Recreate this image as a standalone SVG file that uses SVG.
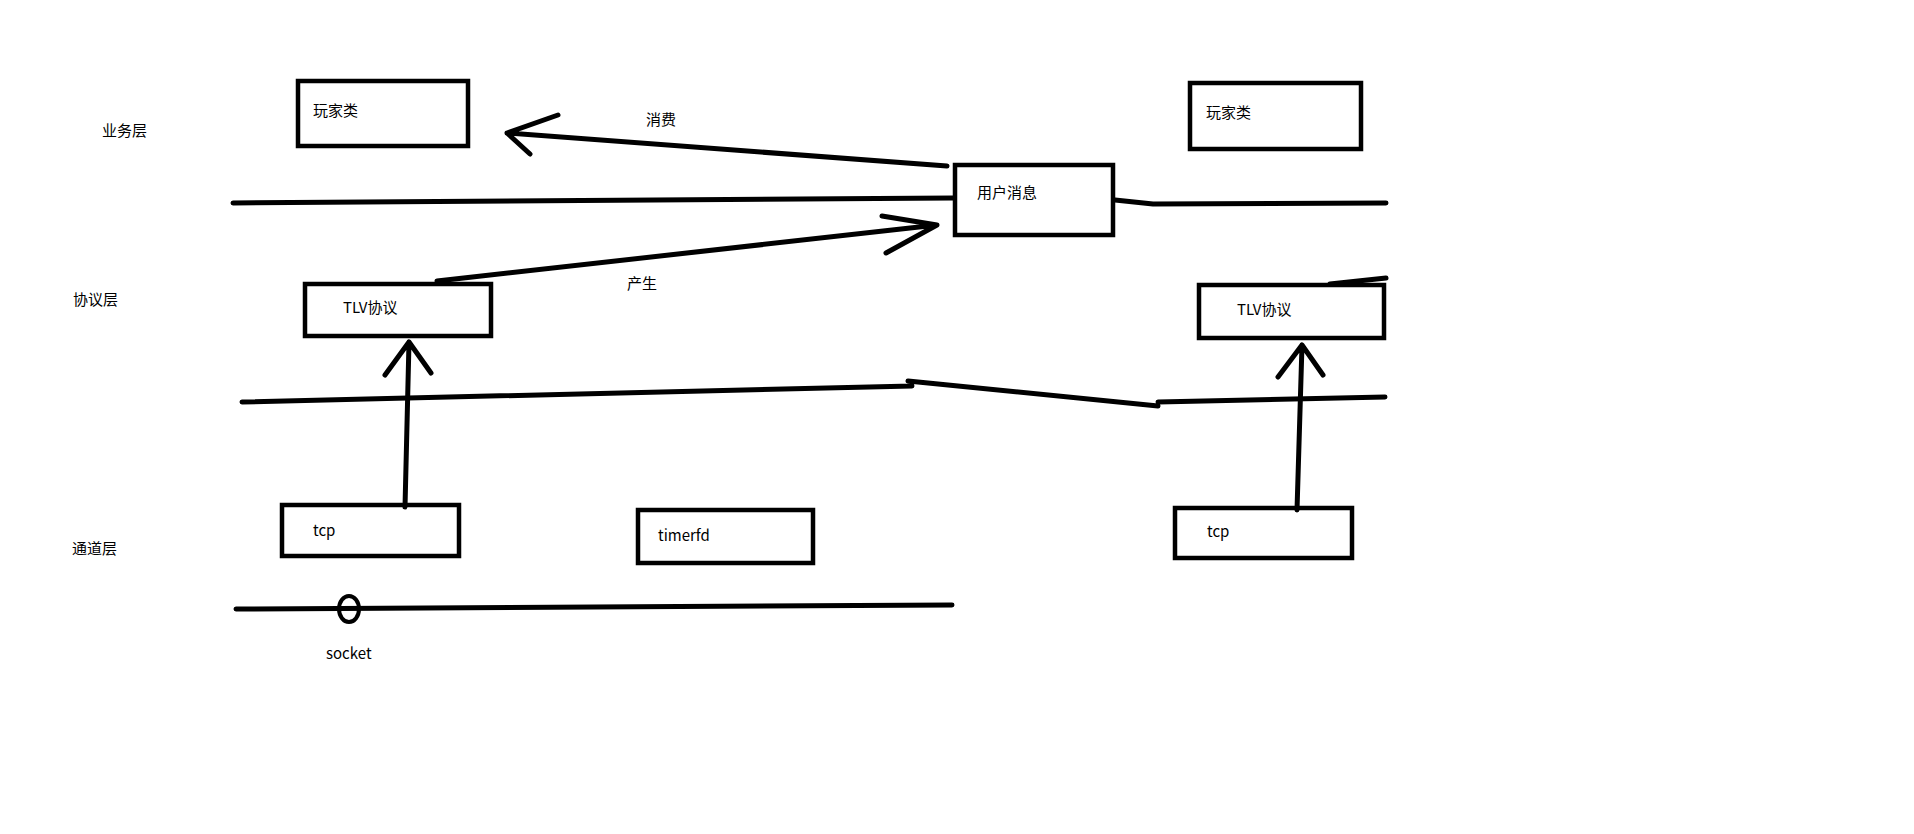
<svg xmlns="http://www.w3.org/2000/svg" width="1914" height="834" viewBox="0 0 1914 834">
<style>
.box{fill:none;stroke:#000;stroke-width:4.5}
.ln{fill:none;stroke:#000;stroke-width:5;stroke-linecap:round;stroke-linejoin:round}
.t{font-family:"Noto Sans CJK SC","Noto Sans",sans-serif;font-size:15px;fill:#000}
</style>
<rect width="1914" height="834" fill="#fff"/>
<g id="labels">
<text class="t" x="102" y="136">业务层</text>
<text class="t" x="73" y="305">协议层</text>
<text class="t" x="72" y="554">通道层</text>
<text class="t" x="646" y="125">消费</text>
<text class="t" x="627" y="289">产生</text>
<text class="t" x="326" y="659">socket</text>
</g>
<g id="connectors">
<path class="ln" d="M233,203 L953,198"/>
<path class="ln" d="M1115,200 L1153,204 L1386,203"/>
<path class="ln" d="M1330,284 L1386,278"/>
<path class="ln" d="M242,402 L912,386 M908,381 L1158,406 M1158,402 L1385,397"/>
<path class="ln" d="M236,609 L952,605"/>
<ellipse cx="349" cy="609" rx="10" ry="13" fill="none" stroke="#000" stroke-width="4"/>
<path class="ln" d="M947,166 L507,133 M558,115 L507,133 L530,154"/>
<path class="ln" d="M437,281 L937,225 M882,216 L937,225 L886,253"/>
<path class="ln" d="M405,507 L409,342 M385,375 L409,342 L431,373"/>
<path class="ln" d="M1297,510 L1302,345 M1278,377 L1302,345 L1323,375"/>
</g>
<g id="player-left"><rect class="box" x="298" y="81" width="170" height="65"/><text class="t" x="313" y="116">玩家类</text></g>
<g id="player-right"><rect class="box" x="1190" y="83" width="171" height="66"/><text class="t" x="1206" y="118">玩家类</text></g>
<g id="user-msg"><rect class="box" x="955" y="165" width="158" height="70"/><text class="t" x="977" y="198">用户消息</text></g>
<g id="tlv-left"><rect class="box" x="305" y="284" width="186" height="52"/><text class="t" x="343" y="313">TLV协议</text></g>
<g id="tlv-right"><rect class="box" x="1199" y="285" width="185" height="53"/><text class="t" x="1237" y="315">TLV协议</text></g>
<g id="tcp-left"><rect class="box" x="282" y="505" width="177" height="51"/><text class="t" x="313" y="536">tcp</text></g>
<g id="timerfd"><rect class="box" x="638" y="510" width="175" height="53"/><text class="t" x="658" y="541">timerfd</text></g>
<g id="tcp-right"><rect class="box" x="1175" y="508" width="177" height="50"/><text class="t" x="1207" y="537">tcp</text></g>
</svg>
